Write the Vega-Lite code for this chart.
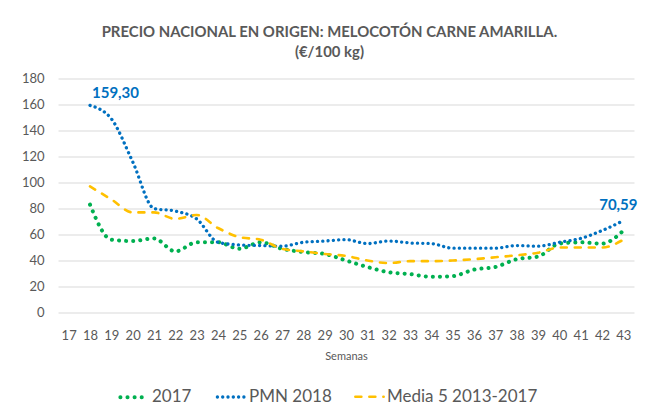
{
  "$schema": "https://vega.github.io/schema/vega-lite/v6.json",
  "width": 576,
  "height": 234,
  "autosize": {"type": "none"},
  "padding": {"left": 58, "top": 78.5, "right": 11, "bottom": 99.5},
  "background": "white",
  "config": {
    "font": "Lato",
    "view": {"stroke": null},
    "axis": {"labelColor": "#595959", "titleColor": "#595959", "labelFont": "Lato", "titleFont": "Lato"}
  },
  "title": {
    "text": ["PRECIO NACIONAL EN ORIGEN: MELOCOTÓN CARNE AMARILLA.", "(€/100 kg)"],
    "fontSize": 14.9,
    "fontWeight": "bold",
    "color": "#595959",
    "anchor": "middle",
    "frame": "bounds",
    "offset": 13,
    "lineHeight": 20
  },
  "datasets": {
    "series": [
      {"semana": 18, "serie": "2017", "precio": 83},
      {"semana": 19, "serie": "2017", "precio": 56},
      {"semana": 20, "serie": "2017", "precio": 55},
      {"semana": 21, "serie": "2017", "precio": 57},
      {"semana": 22, "serie": "2017", "precio": 47},
      {"semana": 23, "serie": "2017", "precio": 54},
      {"semana": 24, "serie": "2017", "precio": 54},
      {"semana": 25, "serie": "2017", "precio": 49},
      {"semana": 26, "serie": "2017", "precio": 54},
      {"semana": 27, "serie": "2017", "precio": 49},
      {"semana": 28, "serie": "2017", "precio": 46.5},
      {"semana": 29, "serie": "2017", "precio": 45},
      {"semana": 30, "serie": "2017", "precio": 40},
      {"semana": 31, "serie": "2017", "precio": 35},
      {"semana": 32, "serie": "2017", "precio": 31},
      {"semana": 33, "serie": "2017", "precio": 29.5},
      {"semana": 34, "serie": "2017", "precio": 27.5},
      {"semana": 35, "serie": "2017", "precio": 28},
      {"semana": 36, "serie": "2017", "precio": 33},
      {"semana": 37, "serie": "2017", "precio": 35},
      {"semana": 38, "serie": "2017", "precio": 41},
      {"semana": 39, "serie": "2017", "precio": 43},
      {"semana": 40, "serie": "2017", "precio": 53},
      {"semana": 41, "serie": "2017", "precio": 54},
      {"semana": 42, "serie": "2017", "precio": 53},
      {"semana": 43, "serie": "2017", "precio": 63},
      {"semana": 18, "serie": "PMN 2018", "precio": 159.3},
      {"semana": 19, "serie": "PMN 2018", "precio": 149},
      {"semana": 20, "serie": "PMN 2018", "precio": 116},
      {"semana": 21, "serie": "PMN 2018", "precio": 80},
      {"semana": 22, "serie": "PMN 2018", "precio": 78},
      {"semana": 23, "serie": "PMN 2018", "precio": 72},
      {"semana": 24, "serie": "PMN 2018", "precio": 54},
      {"semana": 25, "serie": "PMN 2018", "precio": 52},
      {"semana": 26, "serie": "PMN 2018", "precio": 51.5},
      {"semana": 27, "serie": "PMN 2018", "precio": 51},
      {"semana": 28, "serie": "PMN 2018", "precio": 54},
      {"semana": 29, "serie": "PMN 2018", "precio": 55},
      {"semana": 30, "serie": "PMN 2018", "precio": 56},
      {"semana": 31, "serie": "PMN 2018", "precio": 53},
      {"semana": 32, "serie": "PMN 2018", "precio": 55},
      {"semana": 33, "serie": "PMN 2018", "precio": 53.5},
      {"semana": 34, "serie": "PMN 2018", "precio": 53},
      {"semana": 35, "serie": "PMN 2018", "precio": 49.5},
      {"semana": 36, "serie": "PMN 2018", "precio": 49.5},
      {"semana": 37, "serie": "PMN 2018", "precio": 49.5},
      {"semana": 38, "serie": "PMN 2018", "precio": 51.5},
      {"semana": 39, "serie": "PMN 2018", "precio": 51},
      {"semana": 40, "serie": "PMN 2018", "precio": 54},
      {"semana": 41, "serie": "PMN 2018", "precio": 57},
      {"semana": 42, "serie": "PMN 2018", "precio": 63},
      {"semana": 43, "serie": "PMN 2018", "precio": 70.59},
      {"semana": 18, "serie": "Media 5 2013-2017", "precio": 97},
      {"semana": 19, "serie": "Media 5 2013-2017", "precio": 87},
      {"semana": 20, "serie": "Media 5 2013-2017", "precio": 77},
      {"semana": 21, "serie": "Media 5 2013-2017", "precio": 77},
      {"semana": 22, "serie": "Media 5 2013-2017", "precio": 72},
      {"semana": 23, "serie": "Media 5 2013-2017", "precio": 75},
      {"semana": 24, "serie": "Media 5 2013-2017", "precio": 65},
      {"semana": 25, "serie": "Media 5 2013-2017", "precio": 58},
      {"semana": 26, "serie": "Media 5 2013-2017", "precio": 56},
      {"semana": 27, "serie": "Media 5 2013-2017", "precio": 49},
      {"semana": 28, "serie": "Media 5 2013-2017", "precio": 47},
      {"semana": 29, "serie": "Media 5 2013-2017", "precio": 45},
      {"semana": 30, "serie": "Media 5 2013-2017", "precio": 43.5},
      {"semana": 31, "serie": "Media 5 2013-2017", "precio": 40},
      {"semana": 32, "serie": "Media 5 2013-2017", "precio": 38},
      {"semana": 33, "serie": "Media 5 2013-2017", "precio": 39.5},
      {"semana": 34, "serie": "Media 5 2013-2017", "precio": 39.5},
      {"semana": 35, "serie": "Media 5 2013-2017", "precio": 40},
      {"semana": 36, "serie": "Media 5 2013-2017", "precio": 41},
      {"semana": 37, "serie": "Media 5 2013-2017", "precio": 42.5},
      {"semana": 38, "serie": "Media 5 2013-2017", "precio": 44},
      {"semana": 39, "serie": "Media 5 2013-2017", "precio": 46},
      {"semana": 40, "serie": "Media 5 2013-2017", "precio": 50},
      {"semana": 41, "serie": "Media 5 2013-2017", "precio": 50},
      {"semana": 42, "serie": "Media 5 2013-2017", "precio": 50},
      {"semana": 43, "serie": "Media 5 2013-2017", "precio": 56}
    ],
    "etiquetas": [
      {"semana": 18, "precio": 159.3, "texto": "159,30", "pos": "inicio"},
      {"semana": 43, "precio": 70.59, "texto": "70,59", "pos": "fin"}
    ]
  },
  "encoding": {
    "x": {
      "field": "semana",
      "type": "ordinal",
      "scale": {"type": "point", "padding": 0.5, "domain": [17,18,19,20,21,22,23,24,25,26,27,28,29,30,31,32,33,34,35,36,37,38,39,40,41,42,43]},
      "axis": {
        "title": "Semanas",
        "titleFontSize": 11,
        "titleFontWeight": "normal",
        "titlePadding": 8,
        "labelFontSize": 13,
        "labelAngle": 0,
        "labelPadding": 17,
        "ticks": false,
        "domain": false,
        "grid": false
      }
    },
    "y": {
      "field": "precio",
      "type": "quantitative",
      "scale": {"domain": [0, 180], "nice": false},
      "axis": {
        "title": null,
        "values": [0,20,40,60,80,100,120,140,160,180],
        "labelFontSize": 13,
        "labelPadding": 14,
        "ticks": false,
        "domain": false,
        "grid": true,
        "gridColor": "#D9D9D9",
        "gridWidth": 1
      }
    }
  },
  "layer": [
    {
      "data": {"name": "series"},
      "mark": {"type": "line", "interpolate": "monotone", "strokeCap": "round"},
      "encoding": {
        "color": {
          "field": "serie",
          "type": "nominal",
          "scale": {"domain": ["2017", "PMN 2018", "Media 5 2013-2017"], "range": ["#00B050", "#0070C0", "#FFC000"]},
          "legend": {
            "title": null,
            "orient": "none",
            "legendX": 60,
            "legendY": 302,
            "direction": "horizontal",
            "columns": 3,
            "columnPadding": 18,
            "symbolType": "stroke",
            "symbolSize": 800,
            "symbolStrokeWidth": 3.5,
            "labelFontSize": 17,
            "labelColor": "#595959",
            "labelFont": "Lato",
            "labelOffset": 1,
            "encode": {"symbols": {"update": {"strokeCap": {"value": "round"}}}}
          }
        },
        "strokeDash": {
          "field": "serie",
          "type": "nominal",
          "scale": {"domain": ["2017", "PMN 2018", "Media 5 2013-2017"], "range": [[0.1, 7], [0.1, 5.2], [6, 8]]},
          "legend": null
        },
        "strokeWidth": {
          "field": "serie",
          "type": "nominal",
          "scale": {"domain": ["2017", "PMN 2018", "Media 5 2013-2017"], "range": [4, 2.6, 3]},
          "legend": null
        }
      }
    },
    {
      "data": {"name": "etiquetas"},
      "transform": [{"filter": "datum.pos === 'inicio'"}],
      "mark": {"type": "text", "align": "left", "baseline": "middle", "dx": 2, "dy": -12, "fontSize": 15, "fontWeight": "bold", "color": "#0070C0", "font": "Lato"},
      "encoding": {"text": {"field": "texto"}}
    },
    {
      "data": {"name": "etiquetas"},
      "transform": [{"filter": "datum.pos === 'fin'"}],
      "mark": {"type": "text", "align": "center", "baseline": "middle", "dx": -5, "dy": -16, "fontSize": 15, "fontWeight": "bold", "color": "#0070C0", "font": "Lato"},
      "encoding": {"text": {"field": "texto"}}
    }
  ]
}
